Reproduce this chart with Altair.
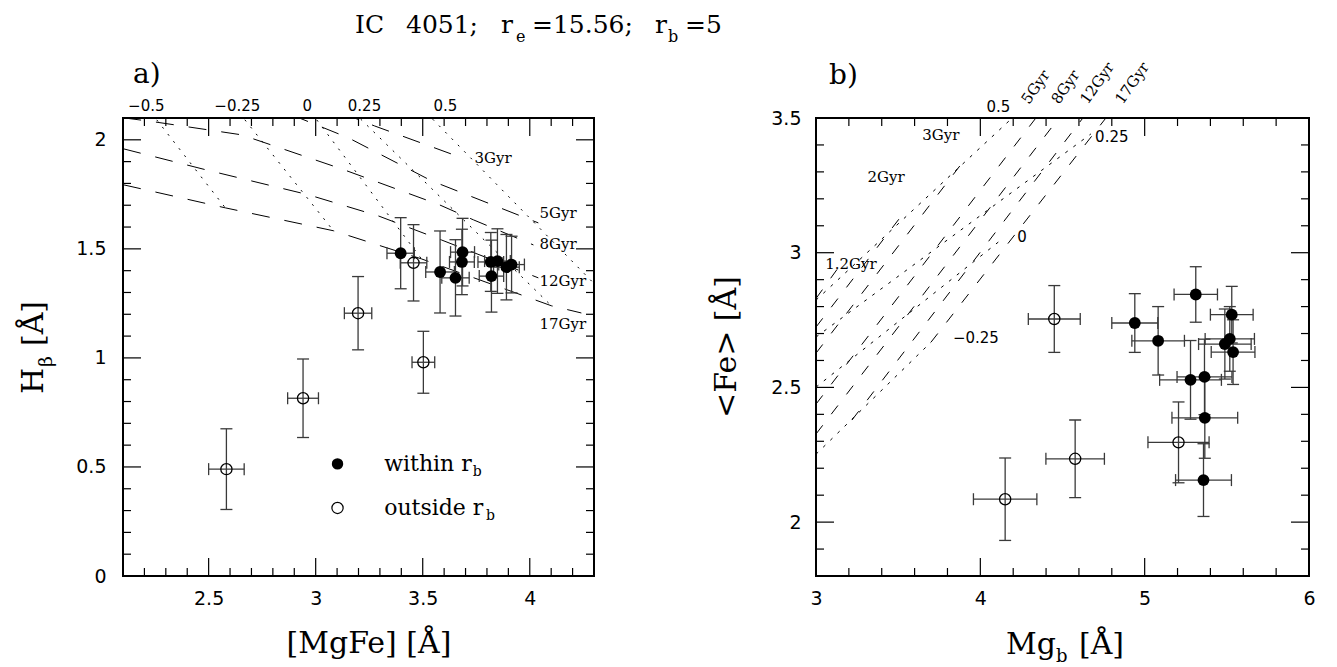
import altair as alt
import pandas as pd

# ---------------- Panel a: [MgFe] vs H_beta ----------------
a_in_x = [3.397, 3.581, 3.653, 3.686, 3.683, 3.818, 3.849, 3.821, 3.891, 3.915]
a_in_xerr = [0.064, 0.067, 0.064, 0.056, 0.058, 0.060, 0.060, 0.057, 0.060, 0.060]
a_in_y = [1.480, 1.394, 1.367, 1.485, 1.440, 1.440, 1.444, 1.375, 1.416, 1.428]
a_in_yerr = [0.163, 0.188, 0.175, 0.155, 0.150, 0.135, 0.148, 0.165, 0.150, 0.130]

a_out_x = [2.583, 2.941, 3.198, 3.503, 3.457]
a_out_xerr = [0.083, 0.072, 0.064, 0.053, 0.062]
a_out_y = [0.490, 0.815, 1.205, 0.980, 1.436]
a_out_yerr = [0.185, 0.180, 0.168, 0.142, 0.175]

# model grid (constant age: dashed; constant metallicity: dotted)
a_age_names = ["3Gyr", "5Gyr", "8Gyr", "12Gyr", "17Gyr"]
a_age_x = [[3.120, 3.274, 3.695],
           [2.886, 3.153, 3.541, 4.040],
           [2.101, 2.242, 2.653, 3.120, 3.578, 3.737, 4.017],
           [2.101, 2.489, 2.966, 3.293, 3.587, 4.040],
           [2.101, 2.578, 3.083, 3.494, 4.101, 4.241]]
a_age_y = [[2.124, 2.064, 1.913],
           [2.115, 2.009, 1.812, 1.619],
           [2.101, 2.083, 2.023, 1.867, 1.702, 1.633, 1.518],
           [1.959, 1.862, 1.748, 1.651, 1.541, 1.367],
           [1.794, 1.688, 1.583, 1.454, 1.239, 1.206]]
a_met_names = ["−0.5", "−0.25", "0", "0.25", "0.5"]
a_met_x = [[2.232, 2.578], [2.643, 3.083], [2.980, 3.494], [3.180, 4.101], [3.517, 4.334]]
a_met_y = [[2.124, 1.688], [2.124, 1.583], [2.124, 1.454], [2.124, 1.239], [2.124, 1.307]]

a_met_lab_x = [2.209, 2.634, 2.961, 3.228, 3.606]
a_met_lab_y = [2.156, 2.156, 2.156, 2.156, 2.156]
a_age_lab_x = [3.742, 4.045, 4.045, 4.045, 4.045]
a_age_lab_y = [1.917, 1.665, 1.523, 1.353, 1.156]

a_leg_x = [3.102, 3.102]
a_leg_y = [0.514, 0.312]
a_leg_text = ["within r", "outside r"]
a_leg_text_x = [3.32, 3.32]
a_leg_sub_x = [3.734, 3.795]
a_leg_sub_y = [0.476, 0.274]

a_x_major = [2.5, 3.0, 3.5, 4.0]
a_x_minor = [2.2, 2.3, 2.4, 2.6, 2.7, 2.8, 2.9, 3.1, 3.2, 3.3, 3.4, 3.6, 3.7, 3.8, 3.9, 4.1, 4.2]
a_y_major = [0.5, 1.0, 1.5, 2.0]
a_y_minor = [0.1, 0.2, 0.3, 0.4, 0.6, 0.7, 0.8, 0.9, 1.1, 1.2, 1.3, 1.4, 1.6, 1.7, 1.8, 1.9]
a_x_labels = [2.5, 3.0, 3.5, 4.0]
a_y_labels = [0.0, 0.5, 1.0, 1.5, 2.0]

# ---------------- Panel b: Mg_b vs <Fe> ----------------
b_in_x = [5.311, 4.940, 5.082, 5.530, 5.518, 5.488, 5.538, 5.279, 5.364, 5.366, 5.358]
b_in_xerr = [0.132, 0.140, 0.160, 0.130, 0.150, 0.160, 0.133, 0.188, 0.167, 0.200, 0.170]
b_in_y = [2.845, 2.739, 2.673, 2.770, 2.680, 2.661, 2.631, 2.528, 2.539, 2.387, 2.156]
b_in_yerr = [0.103, 0.109, 0.127, 0.105, 0.120, 0.130, 0.120, 0.146, 0.140, 0.150, 0.135]

b_out_x = [4.450, 4.151, 4.577, 5.206]
b_out_xerr = [0.158, 0.193, 0.178, 0.186]
b_out_y = [2.754, 2.085, 2.235, 2.296]
b_out_yerr = [0.124, 0.153, 0.144, 0.150]

b_age_x = [[3.000, 3.152], [3.000, 3.529], [3.000, 3.894], [3.000, 4.338],
           [3.000, 4.478], [3.219, 4.624], [3.700, 4.764]]
b_age_y = [[2.830, 2.958], [2.724, 3.144], [2.627, 3.337], [2.438, 3.500],
           [2.327, 3.500], [2.379, 3.500], [2.668, 3.500]]
b_met_x = [[3.000, 4.247], [3.000, 4.673], [3.000, 4.125], [3.000, 3.700]]
b_met_y = [[2.824, 3.530], [2.687, 3.441], [2.501, 3.047], [2.252, 2.668]]

b_age_lab = ["1.2Gyr", "2Gyr", "3Gyr"]
b_age_lab_x = [3.213, 3.426, 3.760]
b_age_lab_y = [2.958, 3.281, 3.437]
b_met_lab = ["0.5", "0.25", "0", "−0.25"]
b_met_lab_x = [4.110, 4.800, 4.253, 3.973]
b_met_lab_y = [3.541, 3.430, 3.058, 2.683]
b_rot_text = ["5Gyr", "8Gyr", "12Gyr", "17Gyr"]
b_rot_x = [4.296, 4.478, 4.654, 4.867]
b_rot_y = [3.548, 3.548, 3.548, 3.548]

b_x_major = [4.0, 5.0]
b_x_minor = [3.2, 3.4, 3.6, 3.8, 4.2, 4.4, 4.6, 4.8, 5.2, 5.4, 5.6, 5.8]
b_y_major = [2.0, 2.5, 3.0]
b_y_minor = [1.9, 2.1, 2.2, 2.3, 2.4, 2.6, 2.7, 2.8, 2.9, 3.1, 3.2, 3.3, 3.4]
b_x_labels = [3, 4, 5, 6]
b_y_labels = [2.0, 2.5, 3.0, 3.5]

SERIF = "DejaVu Serif"
SANS = "DejaVu Sans"
EC = "#3a3a3a"


def lines_df(xs, ys):
    rows = []
    for i, (lx, ly) in enumerate(zip(xs, ys)):
        for j, (px, py) in enumerate(zip(lx, ly)):
            rows.append({"x": px, "y": py, "line": i, "o": j})
    return pd.DataFrame(rows)


def pts_df(x, xe, y, ye):
    d = pd.DataFrame({"x": x, "xe": xe, "y": y, "ye": ye})
    d["xlo"] = d.x - d.xe
    d["xhi"] = d.x + d.xe
    d["ylo"] = d.y - d.ye
    d["yhi"] = d.y + d.ye
    return d


def panel(W, H, xdom, ydom, xlab, ylab, xmaj, xmin, ymaj, ymin,
          pin, pout, age, met, dash, dot, extra, lab_pad_y):
    sx = alt.Scale(domain=xdom, nice=False, zero=False)
    sy = alt.Scale(domain=ydom, nice=False, zero=False)
    ax = alt.Axis(values=xlab, format="~g", ticks=False, domain=False, grid=False,
                  title=None, labelFont=SANS, labelFontSize=19, labelPadding=13,
                  labelColor="black", labelFlush=False)
    ay = alt.Axis(values=ylab, format="~g", ticks=False, domain=False, grid=False,
                  title=None, labelFont=SANS, labelFontSize=19, labelPadding=lab_pad_y,
                  labelColor="black", labelFlush=False)

    def X(f):
        return alt.X(f, type="quantitative", scale=sx, axis=ax)

    def Y(f):
        return alt.Y(f, type="quantitative", scale=sy, axis=ay)

    layers = []
    # frame ticks (inward)
    for vals, ln in ((xmaj, 18), (xmin, 8)):
        d = pd.DataFrame({"v": vals})
        layers.append(alt.Chart(d).mark_rule(color="black", strokeWidth=1.2).encode(
            x=X("v"), y=alt.value(H), y2=alt.value(H - ln)))
        layers.append(alt.Chart(d).mark_rule(color="black", strokeWidth=1.2).encode(
            x=X("v"), y=alt.value(0), y2=alt.value(ln)))
    for vals, ln in ((ymaj, 18), (ymin, 8)):
        d = pd.DataFrame({"v": vals})
        layers.append(alt.Chart(d).mark_rule(color="black", strokeWidth=1.2).encode(
            y=Y("v"), x=alt.value(0), x2=alt.value(ln)))
        layers.append(alt.Chart(d).mark_rule(color="black", strokeWidth=1.2).encode(
            y=Y("v"), x=alt.value(W), x2=alt.value(W - ln)))
    # model grid
    layers.append(alt.Chart(lines_df(*age)).mark_line(
        color="black", strokeWidth=1, strokeDash=dash, clip=True).encode(
        x=X("x"), y=Y("y"), detail="line:N", order="o:Q"))
    layers.append(alt.Chart(lines_df(*met)).mark_line(
        color="black", strokeWidth=1, strokeDash=dot, clip=True).encode(
        x=X("x"), y=Y("y"), detail="line:N", order="o:Q"))
    # error bars and points
    for d in (pin, pout):
        layers.append(alt.Chart(d).mark_rule(color=EC, strokeWidth=1.3).encode(
            x=X("x"), y=Y("ylo"), y2="yhi"))
        layers.append(alt.Chart(d).mark_rule(color=EC, strokeWidth=1.3).encode(
            y=Y("y"), x=X("xlo"), x2="xhi"))
        for f in ("ylo", "yhi"):
            layers.append(alt.Chart(d).mark_tick(orient="horizontal", size=12, thickness=1.3,
                                                 color=EC, opacity=1).encode(x=X("x"), y=Y(f)))
        for f in ("xlo", "xhi"):
            layers.append(alt.Chart(d).mark_tick(orient="vertical", size=12, thickness=1.3,
                                                 color=EC, opacity=1).encode(x=X(f), y=Y("y")))
    layers.append(alt.Chart(pin).mark_point(shape="circle", filled=True, size=140,
                                            color="black", opacity=1).encode(x=X("x"), y=Y("y")))
    layers.append(alt.Chart(pout).mark_point(shape="circle", filled=False, size=125,
                                             color="black", strokeWidth=1.3, opacity=1).encode(
        x=X("x"), y=Y("y")))
    for e in extra(X, Y):
        layers.append(e)
    return alt.layer(*layers).properties(width=W, height=H)


def txt(t, x, y, size, font=SERIF, align="left", angle=0, baseline="alphabetic"):
    return alt.Chart(pd.DataFrame({"t": [t]})).mark_text(
        font=font, fontSize=size, align=align, baseline=baseline, angle=angle,
        color="black").encode(x=alt.value(x), y=alt.value(y), text="t:N")


WA, HA = 471, 458
WB, HB = 493, 458


def extra_a(X, Y):
    out = []
    d = pd.DataFrame({"x": a_met_lab_x, "y": a_met_lab_y, "t": a_met_names})
    out.append(alt.Chart(d).mark_text(font=SANS, fontSize=15, align="center",
                                      baseline="middle", color="black").encode(
        x=X("x"), y=Y("y"), text="t:N"))
    d = pd.DataFrame({"x": a_age_lab_x, "y": a_age_lab_y, "t": a_age_names})
    out.append(alt.Chart(d).mark_text(font=SERIF, fontSize=15, align="left",
                                      baseline="middle", color="black").encode(
        x=X("x"), y=Y("y"), text="t:N"))
    # legend
    d = pd.DataFrame({"x": a_leg_x[:1], "y": a_leg_y[:1]})
    out.append(alt.Chart(d).mark_point(shape="circle", filled=True, size=130,
                                       color="black", opacity=1).encode(x=X("x"), y=Y("y")))
    d = pd.DataFrame({"x": a_leg_x[1:], "y": a_leg_y[1:]})
    out.append(alt.Chart(d).mark_point(shape="circle", filled=False, size=125,
                                       color="black", strokeWidth=1.2, opacity=1).encode(
        x=X("x"), y=Y("y")))
    d = pd.DataFrame({"x": a_leg_text_x, "y": a_leg_y, "t": a_leg_text})
    out.append(alt.Chart(d).mark_text(font=SERIF, fontSize=22, align="left",
                                      baseline="middle", color="black").encode(
        x=X("x"), y=Y("y"), text="t:N"))
    d = pd.DataFrame({"x": a_leg_sub_x, "y": a_leg_sub_y, "t": ["b", "b"]})
    out.append(alt.Chart(d).mark_text(font=SERIF, fontSize=14, align="left",
                                      baseline="middle", color="black").encode(
        x=X("x"), y=Y("y"), text="t:N"))
    # panel label, title, axis titles
    out.append(txt("a)", 10, -35, 28))
    out.append(txt("IC", 232, -85, 25))
    out.append(txt("4051;", 283, -85, 25))
    out.append(txt("r", 378, -85, 25))
    out.append(txt("e", 393, -76, 16))
    out.append(txt("=15.56;", 409, -85, 25))
    out.append(txt("r", 532, -85, 25))
    out.append(txt("b", 545, -76, 16))
    out.append(txt("=5", 562, -85, 25))
    out.append(txt("[MgFe] [Å]", 246, 535, 30, align="center"))
    out.append(txt("H", -80, 276, 30, angle=270))
    out.append(txt("β", -71, 249, 19, angle=270))
    out.append(txt("[Å]", -80, 228, 30, angle=270))
    return out


def extra_b(X, Y):
    out = []
    d = pd.DataFrame({"x": b_age_lab_x, "y": b_age_lab_y, "t": b_age_lab})
    out.append(alt.Chart(d).mark_text(font=SERIF, fontSize=15, align="center",
                                      baseline="middle", color="black").encode(
        x=X("x"), y=Y("y"), text="t:N"))
    d = pd.DataFrame({"x": b_met_lab_x, "y": b_met_lab_y, "t": b_met_lab})
    out.append(alt.Chart(d).mark_text(font=SANS, fontSize=15, align="center",
                                      baseline="middle", color="black").encode(
        x=X("x"), y=Y("y"), text="t:N"))
    d = pd.DataFrame({"x": b_rot_x, "y": b_rot_y, "t": b_rot_text})
    out.append(alt.Chart(d).mark_text(font=SERIF, fontSize=15, align="left",
                                      baseline="alphabetic", angle=305, color="black").encode(
        x=X("x"), y=Y("y"), text="t:N"))
    out.append(txt("b)", 13, -34, 28))
    out.append(txt("Mg", 190, 536, 30))
    out.append(txt("b", 240, 544, 18))
    out.append(txt("[Å]", 263, 536, 30))
    out.append(txt("<Fe> [Å]", -80, 229, 30, align="center", angle=270))
    return out


left = panel(WA, HA, [2.1, 4.3], [0.0, 2.1], a_x_labels, a_y_labels,
             a_x_major, a_x_minor, a_y_major, a_y_minor,
             pts_df(a_in_x, a_in_xerr, a_in_y, a_in_yerr),
             pts_df(a_out_x, a_out_xerr, a_out_y, a_out_yerr),
             (a_age_x, a_age_y), (a_met_x, a_met_y), [18, 15], [2, 7], extra_a, 17)

right = panel(WB, HB, [3.0, 6.0], [1.8, 3.5], b_x_labels, b_y_labels,
              b_x_major, b_x_minor, b_y_major, b_y_minor,
              pts_df(b_in_x, b_in_xerr, b_in_y, b_in_yerr),
              pts_df(b_out_x, b_out_xerr, b_out_y, b_out_yerr),
              (b_age_x, b_age_y), (b_met_x, b_met_y), [11, 14], [3, 7], extra_b, 15)

chart = alt.hconcat(left, right, spacing=222, bounds="flush").properties(
    padding={"left": 10, "top": 4, "right": 5, "bottom": 0}
).configure_view(stroke="black", strokeWidth=2)

chart.save("out.html", embed_options={"renderer": "svg", "actions": False})
